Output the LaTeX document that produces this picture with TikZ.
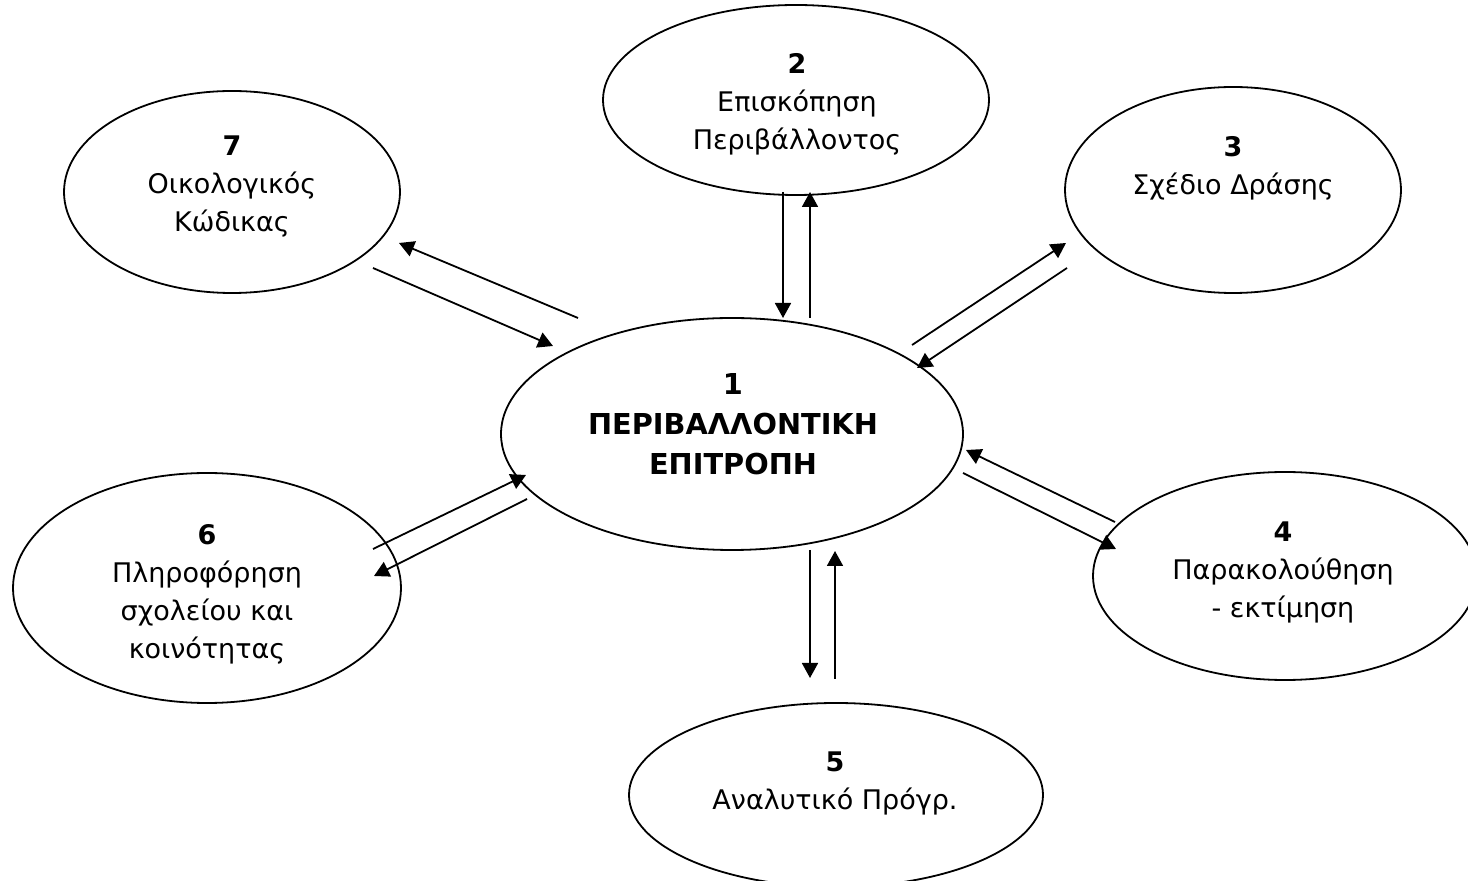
\documentclass[tikz,border=0pt]{standalone}
\usepackage{fontspec}
\setmainfont{DejaVu Sans}
\usetikzlibrary{arrows.meta,shapes.geometric}

\begin{document}
\begin{tikzpicture}[x=0.5pt, y=-0.5pt,
    bubble/.style={draw, ellipse, line width=0.9pt, inner sep=0pt},
    label/.style={align=center, font=\fontsize{13.5}{19}\selectfont},
    link/.style={line width=0.9pt, -{Triangle[length=7.5pt,width=8pt]}}]
        \useasboundingbox (0, 0) rectangle (1468, 881);
        % the seven bubbles
        \node[bubble, minimum width=231pt, minimum height=116pt] (n1) at (732, 434) {};
        \node[bubble, minimum width=193pt, minimum height=95pt] (n2) at (796, 100) {};
        \node[bubble, minimum width=168pt, minimum height=103pt] (n3) at (1233, 190) {};
        \node[bubble, minimum width=192pt, minimum height=104pt] (n4) at (1285, 576) {};
        \node[bubble, minimum width=207pt, minimum height=92pt] (n5) at (836, 795) {};
        \node[bubble, minimum width=194pt, minimum height=115pt] (n6) at (207, 588) {};
        \node[bubble, minimum width=168pt, minimum height=101pt] (n7) at (232, 192) {};
        % texts
        \node[label, font=\bfseries\fontsize{14.4}{20}\selectfont] (t1) at (733, 424) {1\\ΠΕΡΙΒΑΛΛΟΝΤΙΚΗ\\ΕΠΙΤΡΟΠΗ};
        \node[label] (t2) at (797, 104) {\textbf{2}\\Επισκόπηση\\Περιβάλλοντος};
        \node[label] (t3) at (1233, 168) {\textbf{3}\\Σχέδιο Δράσης};
        \node[label] (t4) at (1283, 572) {\textbf{4}\\Παρακολούθηση\\- εκτίμηση};
        \node[label] (t5) at (835, 783) {\textbf{5}\\Αναλυτικό Πρόγρ.};
        \node[label] (t6) at (207, 594) {\textbf{6}\\Πληροφόρηση\\σχολείου και\\κοινότητας};
        \node[label] (t7) at (232, 186) {\textbf{7}\\Οικολογικός\\Κώδικας};
        % arrow ends
        \coordinate (a2o) at (783, 192);  \coordinate (a2i) at (783, 318);
        \coordinate (b2o) at (810, 318);  \coordinate (b2i) at (810, 192);
        \coordinate (a3o) at (912, 345);  \coordinate (a3i) at (1066, 243);
        \coordinate (b3o) at (1067, 268); \coordinate (b3i) at (917, 368);
        \coordinate (a4o) at (1115, 522); \coordinate (a4i) at (966, 450);
        \coordinate (b4o) at (963, 473);  \coordinate (b4i) at (1116, 549);
        \coordinate (a5o) at (810, 550);  \coordinate (a5i) at (810, 678);
        \coordinate (b5o) at (835, 679);  \coordinate (b5i) at (835, 551);
        \coordinate (a6o) at (373, 549);  \coordinate (a6i) at (526, 475);
        \coordinate (b6o) at (527, 499);  \coordinate (b6i) at (374, 576);
        \coordinate (a7o) at (578, 318);  \coordinate (a7i) at (399, 243);
        \coordinate (b7o) at (373, 268);  \coordinate (b7i) at (553, 346);
        % arrows in pairs
        \foreach \k in {2,...,7} {
            \draw[link] (a\k o) -- (a\k i);
            \draw[link] (b\k o) -- (b\k i);
        }
      \end{tikzpicture}
\end{document}
